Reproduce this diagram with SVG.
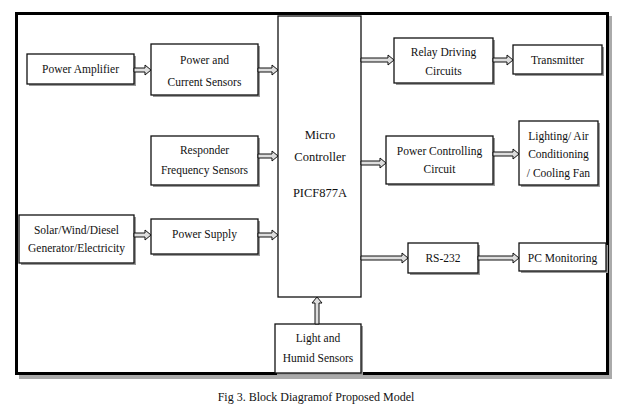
<svg xmlns="http://www.w3.org/2000/svg" width="627" height="411" viewBox="0 0 627 411">
<style>
.box{fill:#fff;stroke:#111;stroke-width:1.3}
.sh{fill:#999}
.t{font-family:"Liberation Serif","Times New Roman",serif;font-size:11.5px;fill:#111;text-anchor:middle}
.mc{font-family:"Liberation Serif","Times New Roman",serif;font-size:12.5px;fill:#111;text-anchor:middle}
.ar{fill:#ddd;stroke:#111;stroke-width:1;stroke-linejoin:miter}
</style>
<rect width="627" height="411" fill="#fff"/>
<g id="frame">
<rect x="19" y="16" width="593" height="363" fill="#aaa"/>
<rect x="16.5" y="13.5" width="591" height="360" fill="#fff" stroke="#000" stroke-width="3"/>
</g>
<g id="mcu">
<rect x="278" y="16" width="83" height="281" class="box"/>
<text class="mc" x="320" y="139">Micro</text>
<text class="mc" x="320" y="161">Controller</text>
<text class="mc" x="320" y="197">PICF877A</text>
</g>
<g id="power-amplifier">
<rect x="29" y="56" width="107" height="30" class="sh"/>
<rect x="27" y="54" width="107" height="30" class="box"/>
<text class="t" x="80.5" y="72.5">Power Amplifier</text>
</g>
<g id="power-current-sensors">
<rect x="153" y="46" width="107" height="51" class="sh"/>
<rect x="151" y="44" width="107" height="51" class="box"/>
<text class="t" x="204.5" y="64">Power and</text>
<text class="t" x="204.5" y="86">Current Sensors</text>
</g>
<g id="responder-sensors">
<rect x="153" y="138" width="107" height="49" class="sh"/>
<rect x="151" y="136" width="107" height="49" class="box"/>
<text class="t" x="204.5" y="154">Responder</text>
<text class="t" x="204.5" y="174">Frequency Sensors</text>
</g>
<g id="solar-source">
<rect x="21" y="217" width="115" height="48" class="sh"/>
<rect x="19" y="215" width="115" height="48" class="box"/>
<text class="t" x="76.5" y="234">Solar/Wind/Diesel</text>
<text class="t" x="76.5" y="252">Generator/Electricity</text>
</g>
<g id="power-supply">
<rect x="153" y="221" width="107" height="35" class="sh"/>
<rect x="151" y="219" width="107" height="35" class="box"/>
<text class="t" x="204.5" y="237.5">Power Supply</text>
</g>
<g id="light-humid-sensors">
<rect x="277" y="326" width="86" height="49" class="sh"/>
<rect x="275" y="324" width="86" height="49" class="box"/>
<text class="t" x="318" y="342">Light and</text>
<text class="t" x="318" y="362">Humid Sensors</text>
</g>
<g id="relay-driving">
<rect x="396" y="40" width="99" height="45" class="sh"/>
<rect x="394" y="38" width="99" height="45" class="box"/>
<text class="t" x="443.5" y="56">Relay Driving</text>
<text class="t" x="443.5" y="75">Circuits</text>
</g>
<g id="transmitter">
<rect x="515" y="47" width="89" height="29" class="sh"/>
<rect x="513" y="45" width="89" height="29" class="box"/>
<text class="t" x="557.5" y="64">Transmitter</text>
</g>
<g id="power-controlling">
<rect x="388" y="138" width="107" height="48" class="sh"/>
<rect x="386" y="136" width="107" height="48" class="box"/>
<text class="t" x="439.5" y="155">Power Controlling</text>
<text class="t" x="439.5" y="173">Circuit</text>
</g>
<g id="lighting">
<rect x="521" y="123" width="79" height="64" class="sh"/>
<rect x="519" y="121" width="79" height="64" class="box"/>
<text class="t" x="558.5" y="140">Lighting/ Air</text>
<text class="t" x="558.5" y="158">Conditioning</text>
<text class="t" x="558.5" y="177">/ Cooling Fan</text>
</g>
<g id="rs232">
<rect x="410" y="245" width="70" height="30" class="sh"/>
<rect x="408" y="243" width="70" height="30" class="box"/>
<text class="t" x="443" y="261.5">RS-232</text>
</g>
<g id="pc-monitoring">
<rect x="521" y="245" width="87" height="28" class="sh"/>
<rect x="519" y="243" width="87" height="28" class="box"/>
<text class="t" x="562.5" y="261.5">PC Monitoring</text>
</g>
<g id="connectors">
<path class="ar" d="M134,68 H145 V65 L151,70 L145,75 V72 H134 Z"/>
<path class="ar" d="M258,68 H272 V65 L278,70 L272,75 V72 H258 Z"/>
<path class="ar" d="M258,154 H272 V151 L278,156 L272,161 V158 H258 Z"/>
<path class="ar" d="M134,233 H145 V230 L151,235 L145,240 V237 H134 Z"/>
<path class="ar" d="M258,233 H272 V230 L278,235 L272,240 V237 H258 Z"/>
<path class="ar" d="M315,324 V303 H312 L317,297 L322,303 H319 V324 Z"/>
<path class="ar" d="M361,58 H388 V55 L394,60 L388,65 V62 H361 Z"/>
<path class="ar" d="M493,58 H507 V55 L513,60 L507,65 V62 H493 Z"/>
<path class="ar" d="M361,161 H380 V158 L386,163 L380,168 V165 H361 Z"/>
<path class="ar" d="M493,152 H513 V149 L519,154 L513,159 V156 H493 Z"/>
<path class="ar" d="M361,256 H402 V253 L408,258 L402,263 V260 H361 Z"/>
<path class="ar" d="M478,256 H513 V253 L519,258 L513,263 V260 H478 Z"/>
</g>
<text class="t" x="316" y="401" style="font-size:12px">Fig 3. Block Diagramof Proposed Model</text>
</svg>
